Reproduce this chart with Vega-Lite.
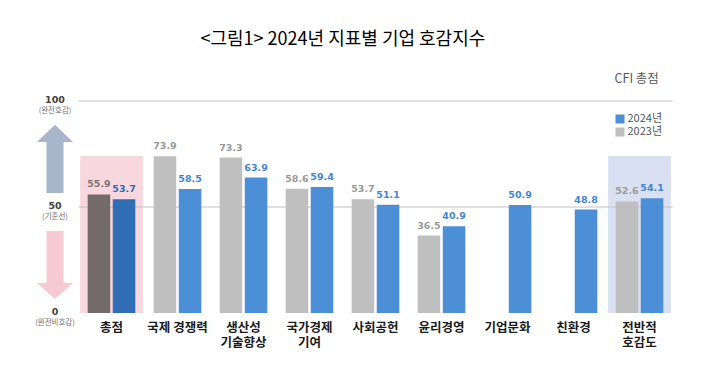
{
  "$schema": "https://vega.github.io/schema/vega-lite/v6.json",
  "background": "white",
  "padding": {"left": 34.5, "top": 30, "right": 10, "bottom": 10},
  "bounds": "flush",
  "title": {
    "text": "<그림1> 2024년 지표별 기업 호감지수",
    "font": "Noto Sans CJK KR",
    "fontSize": 18,
    "fontWeight": "normal",
    "color": "#000000",
    "anchor": "start",
    "frame": "group",
    "dx": 154,
    "offset": 24.5
  },
  "config": {
    "view": {"stroke": null},
    "axis": {"labelOverlap": false}
  },
  "spacing": 15,
  "hconcat": [
    {
      "width": 17,
      "height": 212,
      "data": {"values": [
        {"v": 100, "main": "100", "sub": "(완전호감)"},
        {"v": 50, "main": "50", "sub": "(기준선)"},
        {"v": 0, "main": "0", "sub": "(완전비호감)"}
      ]},
      "layer": [
        {
          "data": {"values": [{"a": 1}]},
          "mark": {"type": "rect", "color": "#a8b5ca"},
          "encoding": {
            "y": {"datum": 56.6, "type": "quantitative", "scale": {"domain": [0, 100], "nice": false}, "axis": null},
            "y2": {"datum": 80.9}
          }
        },
        {
          "data": {"values": [{"a": 1}]},
          "mark": {"type": "point", "shape": "M-1,0L0,-0.95L1,0Z", "size": 1296, "filled": true, "opacity": 1, "color": "#a8b5ca", "strokeWidth": 0},
          "encoding": {
            "y": {"datum": 80.7, "type": "quantitative"}
          }
        },
        {
          "data": {"values": [{"a": 1}]},
          "mark": {"type": "rect", "color": "#f7c9d2"},
          "encoding": {
            "y": {"datum": 14.0, "type": "quantitative"},
            "y2": {"datum": 38.7}
          }
        },
        {
          "data": {"values": [{"a": 1}]},
          "mark": {"type": "point", "shape": "M-1,0L0,0.9L1,0Z", "size": 1296, "filled": true, "opacity": 1, "color": "#f7c9d2", "strokeWidth": 0},
          "encoding": {
            "y": {"datum": 14.2, "type": "quantitative"}
          }
        },
        {
          "mark": {"type": "text", "font": "DejaVu Sans", "fontWeight": "bold", "fontSize": 9.5, "color": "#404040", "baseline": "middle", "dy": -1},
          "encoding": {
            "y": {"field": "v", "type": "quantitative"},
            "text": {"field": "main"}
          }
        },
        {
          "mark": {"type": "text", "font": "Noto Sans CJK KR", "fontSize": 7.5, "color": "#707070", "baseline": "middle", "dy": 9.5},
          "encoding": {
            "y": {"field": "v", "type": "quantitative"},
            "text": {"field": "sub"}
          }
        }
      ]
    },
    {
      "width": 594,
      "height": 212,
      "layer": [
        {
          "data": {"values": [
            {"category": "총점"},
            {"category": "전반적 호감도"}
          ]},
          "mark": {"type": "bar"},
          "encoding": {
            "x": {"field": "category", "type": "nominal",
              "scale": {"domain": ["총점", "국제 경쟁력", "생산성 기술향상", "국가경제 기여", "사회공헌", "윤리경영", "기업문화", "친환경", "전반적 호감도"], "paddingInner": 0.05, "paddingOuter": 0.025},
              "title": null,
              "axis": {
                "domain": false, "ticks": false, "labelAngle": 0, "labelPadding": 8,
                "labelFont": "Noto Sans CJK KR", "labelFontWeight": "bold", "labelFontSize": 12.5,
                "labelColor": "#1a1a1a", "labelLineHeight": 15, "labelLimit": 0,
                "labelExpr": "indexof(['생산성 기술향상','국가경제 기여','전반적 호감도'], datum.value) >= 0 ? split(datum.value, ' ') : datum.value"
              }
            },
            "y": {"datum": 74, "type": "quantitative", "scale": {"domain": [0, 100], "nice": false}, "axis": null},
            "y2": {"datum": 0},
            "color": {"condition": {"test": "datum.category == '총점'", "value": "#f9d7de"}, "value": "#d8e0f1"}
          }
        },
        {
          "data": {"values": [{"g": 50}, {"g": 100}]},
          "mark": {"type": "rule", "color": "#c2c2c2", "strokeWidth": 1.2},
          "encoding": {
            "y": {"field": "g", "type": "quantitative", "axis": null}
          }
        },
        {
          "data": {"values": [
            {"category": "총점", "year": "2023", "series": "총점 2023년", "value": 55.9},
            {"category": "총점", "year": "2024", "series": "총점 2024년", "value": 53.7},
            {"category": "국제 경쟁력", "year": "2023", "series": "2023년", "value": 73.9},
            {"category": "국제 경쟁력", "year": "2024", "series": "2024년", "value": 58.5},
            {"category": "생산성 기술향상", "year": "2023", "series": "2023년", "value": 73.3},
            {"category": "생산성 기술향상", "year": "2024", "series": "2024년", "value": 63.9},
            {"category": "국가경제 기여", "year": "2023", "series": "2023년", "value": 58.6},
            {"category": "국가경제 기여", "year": "2024", "series": "2024년", "value": 59.4},
            {"category": "사회공헌", "year": "2023", "series": "2023년", "value": 53.7},
            {"category": "사회공헌", "year": "2024", "series": "2024년", "value": 51.1},
            {"category": "윤리경영", "year": "2023", "series": "2023년", "value": 36.5},
            {"category": "윤리경영", "year": "2024", "series": "2024년", "value": 40.9},
            {"category": "기업문화", "year": "2024", "series": "2024년", "value": 50.9},
            {"category": "친환경", "year": "2024", "series": "2024년", "value": 48.8},
            {"category": "전반적 호감도", "year": "2023", "series": "2023년", "value": 52.6},
            {"category": "전반적 호감도", "year": "2024", "series": "2024년", "value": 54.1}
          ]},
          "encoding": {
            "x": {"field": "category", "type": "nominal",
              "scale": {"domain": ["총점", "국제 경쟁력", "생산성 기술향상", "국가경제 기여", "사회공헌", "윤리경영", "기업문화", "친환경", "전반적 호감도"]}},
            "xOffset": {"field": "year", "type": "nominal", "scale": {"domain": ["2023", "2024"], "paddingInner": 0.1, "paddingOuter": 0.3}},
            "y": {"field": "value", "type": "quantitative", "axis": null}
          },
          "layer": [
            {
              "mark": {"type": "bar"},
              "encoding": {
                "color": {
                  "field": "series", "type": "nominal",
                  "scale": {"domain": ["2024년", "2023년", "총점 2024년", "총점 2023년"], "range": ["#4d8fd6", "#bfbfbf", "#2f6db5", "#736a6a"]},
                  "legend": {
                    "values": ["2024년", "2023년"],
                    "title": "CFI 총점",
                    "orient": "none", "legendX": 568, "legendY": -28,
                    "titleFont": "Noto Sans CJK KR", "titleFontSize": 12.5, "titleFontWeight": "normal", "titleColor": "#595959", "titlePadding": 28,
                    "labelFont": "Noto Sans CJK KR", "labelFontSize": 11, "labelColor": "#555555", "labelOffset": 2,
                    "symbolType": "square", "symbolSize": 81, "symbolStrokeWidth": 0, "rowPadding": 1
                  }
                }
              }
            },
            {
              "mark": {"type": "text", "font": "DejaVu Sans", "fontWeight": "bold", "fontSize": 9.5, "baseline": "alphabetic", "dy": -7},
              "encoding": {
                "text": {"field": "value", "type": "quantitative", "format": ".1f"},
                "color": {
                  "condition": [
                    {"test": "datum.series == '총점 2023년'", "value": "#7d7373"},
                    {"test": "datum.series == '총점 2024년'", "value": "#2f6db5"},
                    {"test": "datum.year == '2023'", "value": "#9a9a9a"}
                  ],
                  "value": "#3f85d3"
                }
              }
            }
          ]
        }
      ]
    }
  ]
}
